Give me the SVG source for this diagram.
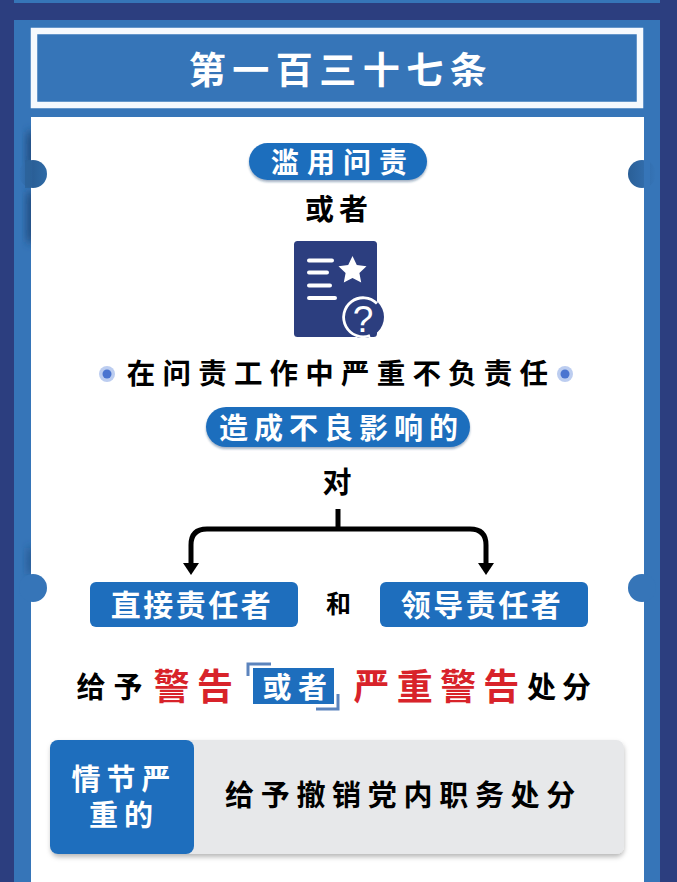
<svg xmlns="http://www.w3.org/2000/svg" width="677" height="882" viewBox="0 0 677 882">
<defs>
<linearGradient id="tabR" x1="0" x2="1" y1="0" y2="0"><stop offset="0" stop-color="#2a5f97"/><stop offset="1" stop-color="#3675b8"/></linearGradient>
<linearGradient id="tabL" x1="0" x2="1" y1="0" y2="0"><stop offset="0" stop-color="#3675b8"/><stop offset=".5" stop-color="#2a5f97"/><stop offset="1" stop-color="#2f6ba6"/></linearGradient>
<linearGradient id="fade" x1="0" x2="1" y1="0" y2="0"><stop offset="0" stop-color="#1f4a7c" stop-opacity="0"/><stop offset="1" stop-color="#1f4a7c" stop-opacity=".8"/></linearGradient>
<filter id="sh" x="-10%" y="-20%" width="120%" height="145%"><feDropShadow dx="0" dy="3" stdDeviation="2.5" flood-color="#000" flood-opacity="0.28"/></filter>
<filter id="sh2" x="-10%" y="-20%" width="120%" height="140%"><feDropShadow dx="0" dy="2" stdDeviation="1.2" flood-color="#1b3c6a" flood-opacity="0.4"/></filter>
<filter id="blur" filterUnits="userSpaceOnUse" x="0" y="100" width="60" height="500"><feGaussianBlur stdDeviation="0 5"/></filter>
<polygon id="ah" points="-8,0 8,0 0,12" fill="#000"/>
</defs>
<style>
text{font-family:"Noto Sans CJK SC","Noto Sans",sans-serif;font-weight:700;text-anchor:middle}
.w{fill:#fff}.k{fill:#000}.r{fill:#d8232a}
.pill{fill:#1e6ebd}
</style>
<rect width="677" height="882" fill="#2c3e7f"/>
<rect x="14" y="0" width="646" height="3" fill="#3675b8"/>
<rect x="14" y="20" width="646" height="862" fill="#3675b8"/>
<g id="title">
<rect x="34" y="31" width="606" height="74" fill="#3675b8" stroke="#f6f9fd" stroke-width="6.500"/>
<text class="w" x="341" y="84" font-size="37" letter-spacing="6.500">第一百三十七条</text>
</g>
<g id="panel">
<g filter="url(#blur)">
<rect x="21" y="132" width="10" height="36" fill="url(#fade)"/>
<rect x="21" y="192" width="10" height="50" fill="url(#fade)"/>
<rect x="21" y="548" width="10" height="26" fill="url(#fade)" opacity=".6"/>
</g>
<rect x="31" y="117" width="613" height="765" fill="#fff"/>
<circle cx="33" cy="174" r="14" fill="url(#tabL)"/>
<circle cx="642" cy="174" r="14" fill="url(#tabR)"/>
<circle cx="33" cy="588" r="14" fill="#3675b8"/>
<circle cx="642" cy="588" r="14" fill="#3675b8"/>
<rect x="644" y="160" width="6" height="28" fill="#3675b8"/>
<rect x="25" y="160" width="6" height="28" fill="#2c6299" opacity=".8"/>
</g>
<g id="n1">
<rect x="249" y="143" width="178" height="37" rx="18.500" class="pill" filter="url(#sh2)"/>
<text class="w" x="343" y="173" font-size="28" letter-spacing="8">滥用问责</text>
</g>
<g id="n2"><text class="k" x="339" y="220" font-size="29" letter-spacing="5">或者</text></g>
<g id="icon">
<rect x="294" y="241" width="83" height="96" rx="3.500" fill="#2c3e7f"/>
<path d="M309 260.500h23M309 272.500h18M309 285.500h21M309 298h26" stroke="#fff" stroke-width="4" fill="none" stroke-linecap="round"/>
<path d="M352.500 256l4.300 8.900 9.700 1.300-7.100 6.700 1.800 9.700-8.700-4.700-8.700 4.700 1.800-9.700-7.100-6.700 9.700-1.300Z" fill="#fff"/>
<circle cx="363" cy="317" r="21" fill="#2c3e7f"/>
<path d="M370 335.500A19.500 19.500 0 1 1 377 303.500" fill="none" stroke="#fff" stroke-width="2.800"/>
<text x="363" y="332" font-size="37" style="font-family:'Liberation Sans',sans-serif;font-weight:400" fill="#fff">?</text>
</g>
<g id="n3">
<circle cx="107" cy="374" r="8" fill="#bccdf0"/><circle cx="107" cy="374" r="4.500" fill="#4a74d0"/>
<circle cx="565" cy="374" r="8" fill="#bccdf0"/><circle cx="565" cy="374" r="4.500" fill="#4a74d0"/>
<text class="k" x="341" y="384" font-size="28.500" letter-spacing="7.200">在问责工作中严重不负责任</text>
</g>
<g id="n4">
<rect x="206" y="407" width="264" height="40" rx="20" class="pill" filter="url(#sh2)"/>
<text class="w" x="341.500" y="439" font-size="29" letter-spacing="6">造成不良影响的</text>
</g>
<g id="n5"><text class="k" x="337" y="493" font-size="29">对</text></g>
<g id="connectors" fill="none" stroke="#000" stroke-width="5">
<path d="M338 509V529"/>
<path d="M191 564V545Q191 529 207 529H470Q486 529 486 545V564"/>
<use href="#ah" x="191" y="563" stroke="none"/>
<use href="#ah" x="486" y="563" stroke="none"/>
</g>
<g id="n6">
<rect x="90" y="582" width="208" height="45" rx="6" class="pill"/>
<text class="w" x="192" y="616" font-size="30" letter-spacing="2.500">直接责任者</text>
</g>
<g id="n7"><text class="k" x="338.500" y="613" font-size="25">和</text></g>
<g id="n8">
<rect x="380" y="582" width="208" height="45" rx="6" class="pill"/>
<text class="w" x="482" y="616" font-size="30" letter-spacing="2.500">领导责任者</text>
</g>
<g id="n9">
<text class="k" x="113.500" y="698" font-size="29" letter-spacing="8">给予</text>
<text class="r" x="197" y="700" font-size="36" letter-spacing="7.500">警告</text>
<path d="M248 676V664H271" fill="none" stroke="#5c84bd" stroke-width="3"/>
<path d="M338 694V709H316" fill="none" stroke="#5c84bd" stroke-width="3"/>
<rect x="253" y="668" width="81" height="36" fill="#1e6ebd"/>
<text class="w" x="298" y="698" font-size="29" letter-spacing="6.500">或者</text>
<text class="r" x="440" y="700" font-size="36" letter-spacing="7.300">严重警告</text>
<text class="k" x="562" y="698" font-size="29" letter-spacing="6">处分</text>
</g>
<g id="n10">
<rect x="51" y="740" width="573" height="114" rx="8" fill="#e7e8ea" filter="url(#sh)"/>
<rect x="50" y="740" width="144" height="114" rx="8" class="pill"/>
<text class="w" font-size="29" letter-spacing="6"><tspan x="124" y="790">情节严</tspan><tspan x="124" y="826">重的</tspan></text>
<text class="k" x="403.500" y="806" font-size="29" letter-spacing="6.700">给予撤销党内职务处分</text>
</g>
</svg>
